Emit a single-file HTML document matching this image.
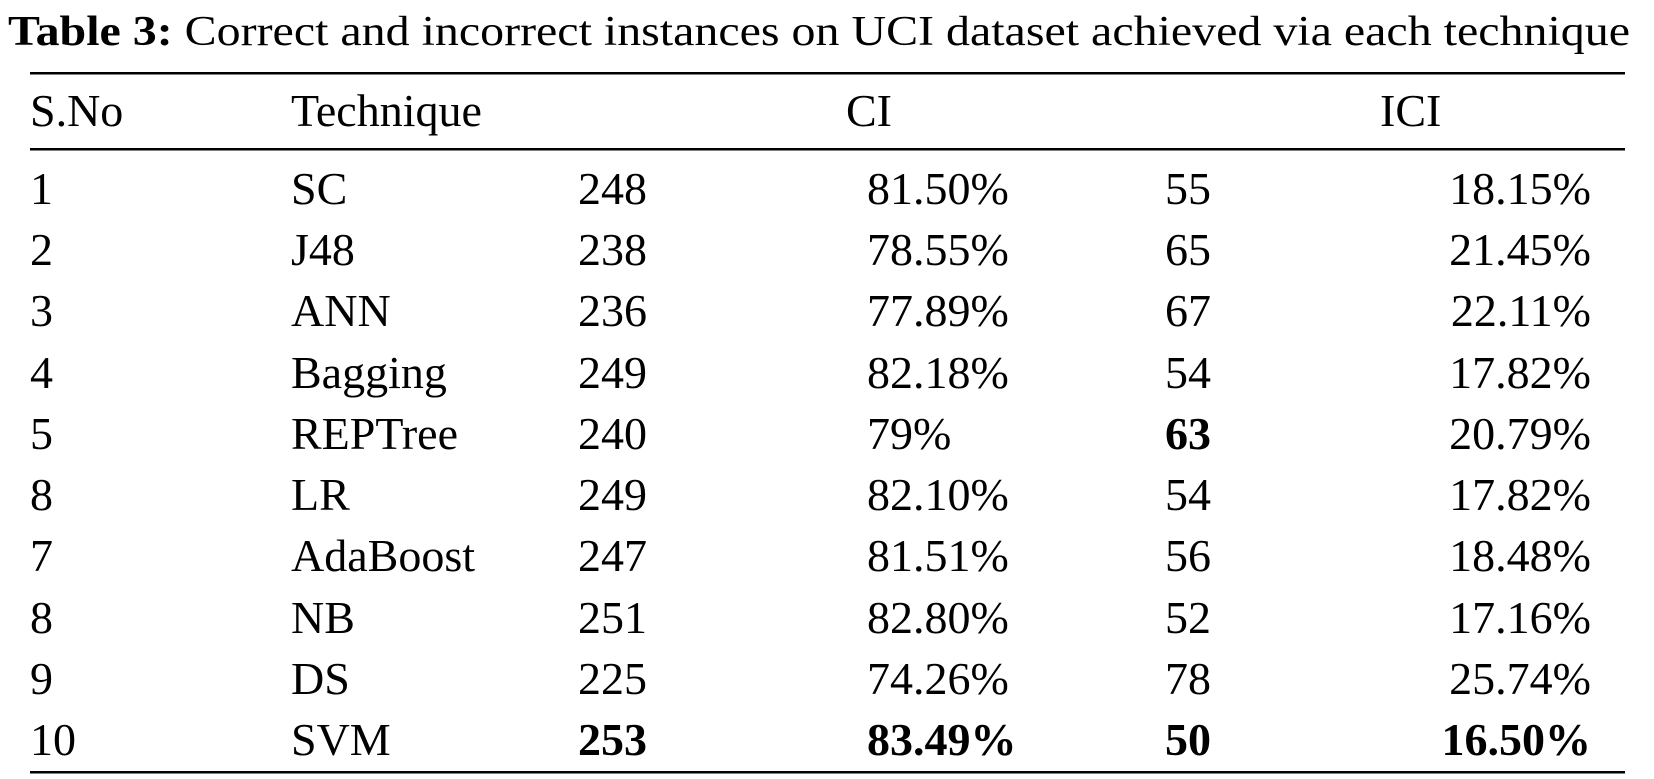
<!DOCTYPE html>
<html><head><meta charset="utf-8"><style>
html,body{margin:0;padding:0;background:#fff;width:1654px;height:779px;overflow:hidden}
svg{display:block}
text{font-family:"Liberation Serif",serif;font-size:46px;fill:#000}
</style></head><body>
<svg width="1654" height="779" viewBox="0 0 1654 779" xmlns="http://www.w3.org/2000/svg">
<text x="8" y="45" textLength="1622" lengthAdjust="spacingAndGlyphs" style="font-size:42px"><tspan font-weight="bold">Table 3:</tspan>  Correct and incorrect instances on UCI dataset achieved via each technique</text>
<rect x="30" y="72" width="1595" height="2.5" fill="#000"/>
<text x="30" y="126">S.No</text>
<text x="291" y="126">Technique</text>
<text x="846" y="126">CI</text>
<text x="1380" y="126">ICI</text>
<rect x="30" y="148" width="1595" height="2.5" fill="#000"/>
<g>
<text x="30" y="204">1</text><text x="291" y="204">SC</text><text x="578" y="204">248</text><text x="867" y="204">81.50%</text><text x="1165" y="204">55</text><text x="1591" y="204" text-anchor="end">18.15%</text>
<text x="30" y="265">2</text><text x="291" y="265">J48</text><text x="578" y="265">238</text><text x="867" y="265">78.55%</text><text x="1165" y="265">65</text><text x="1591" y="265" text-anchor="end">21.45%</text>
<text x="30" y="326">3</text><text x="291" y="326">ANN</text><text x="578" y="326">236</text><text x="867" y="326">77.89%</text><text x="1165" y="326">67</text><text x="1591" y="326" text-anchor="end">22.11%</text>
<text x="30" y="388">4</text><text x="291" y="388">Bagging</text><text x="578" y="388">249</text><text x="867" y="388">82.18%</text><text x="1165" y="388">54</text><text x="1591" y="388" text-anchor="end">17.82%</text>
<text x="30" y="449">5</text><text x="291" y="449">REPTree</text><text x="578" y="449">240</text><text x="867" y="449">79%</text><text x="1165" y="449" font-weight="bold">63</text><text x="1591" y="449" text-anchor="end">20.79%</text>
<text x="30" y="510">8</text><text x="291" y="510">LR</text><text x="578" y="510">249</text><text x="867" y="510">82.10%</text><text x="1165" y="510">54</text><text x="1591" y="510" text-anchor="end">17.82%</text>
<text x="30" y="571">7</text><text x="291" y="571">AdaBoost</text><text x="578" y="571">247</text><text x="867" y="571">81.51%</text><text x="1165" y="571">56</text><text x="1591" y="571" text-anchor="end">18.48%</text>
<text x="30" y="633">8</text><text x="291" y="633">NB</text><text x="578" y="633">251</text><text x="867" y="633">82.80%</text><text x="1165" y="633">52</text><text x="1591" y="633" text-anchor="end">17.16%</text>
<text x="30" y="694">9</text><text x="291" y="694">DS</text><text x="578" y="694">225</text><text x="867" y="694">74.26%</text><text x="1165" y="694">78</text><text x="1591" y="694" text-anchor="end">25.74%</text>
<text x="30" y="755">10</text><text x="291" y="755">SVM</text><text x="578" y="755" font-weight="bold">253</text><text x="867" y="755" font-weight="bold">83.49%</text><text x="1165" y="755" font-weight="bold">50</text><text x="1591" y="755" text-anchor="end" font-weight="bold">16.50%</text>
</g>
<rect x="30" y="771" width="1595" height="2.5" fill="#000"/>
</svg>
</body></html>
